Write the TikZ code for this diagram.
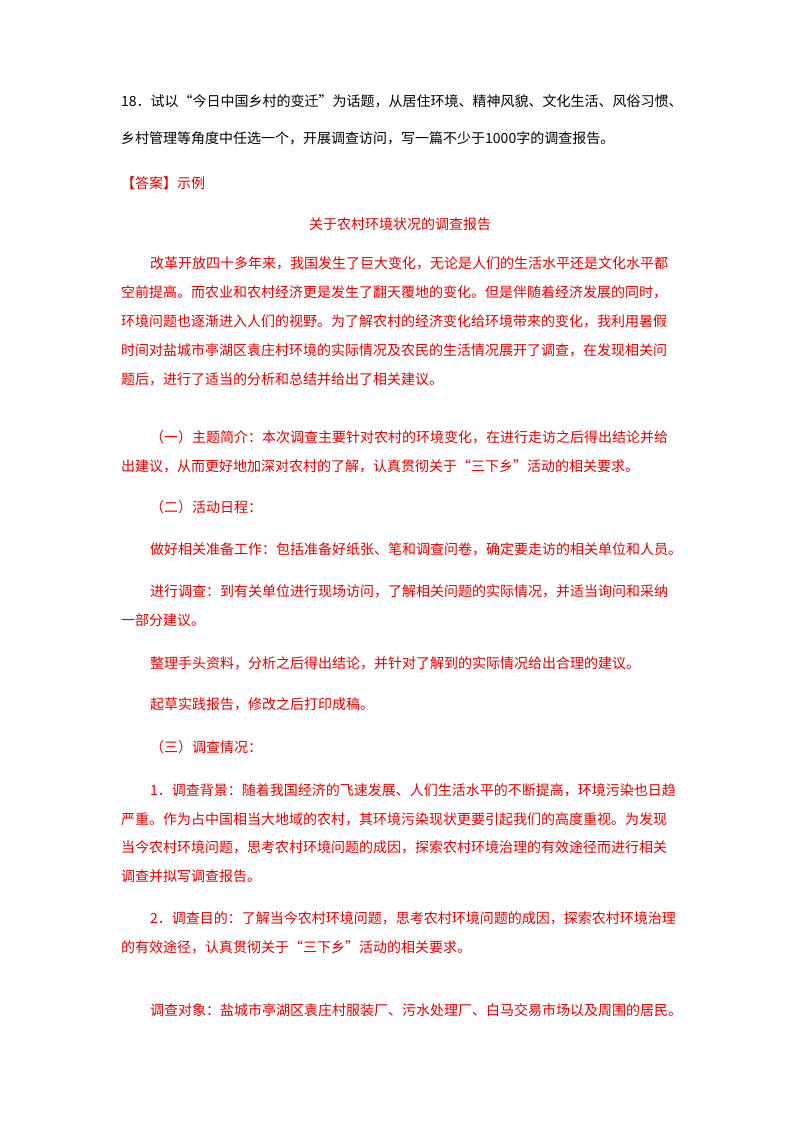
\documentclass[tikz,border=0pt]{standalone}
\usepackage{fontspec}
\newfontfamily\cjk{Noto Sans CJK SC}
\definecolor{ans}{RGB}{230,0,0}
\begin{document}
\begin{tikzpicture}[x=1pt,y=1pt,
  txt/.style={anchor=west,inner sep=0pt,font=\cjk\fontsize{14}{14}\selectfont},
  q/.style={txt,text=black},
  a/.style={txt,text=ans}]
\useasboundingbox[fill=white] (0,0) rectangle (800,-1132);
\node[q] (l1) at (121,-101) {18．试以“今日中国乡村的变迁”为话题，从居住环境、精神风貌、文化生活、风俗习惯、};
\node[q] (l2) at (121,-138) {乡村管理等角度中任选一个，开展调查访问，写一篇不少于1000字的调查报告。};
\node[a] (l3) at (121,-183) {【答案】示例};
\node[a,anchor=center] (l4) at (400,-224) {关于农村环境状况的调查报告};
\node[a] (l5) at (150,-263) {改革开放四十多年来，我国发生了巨大变化，无论是人们的生活水平还是文化水平都};
\node[a] (l6) at (121,-292) {空前提高。而农业和农村经济更是发生了翻天覆地的变化。但是伴随着经济发展的同时，};
\node[a] (l7) at (121,-321) {环境问题也逐渐进入人们的视野。为了解农村的经济变化给环境带来的变化，我利用暑假};
\node[a] (l8) at (121,-350) {时间对盐城市亭湖区袁庄村环境的实际情况及农民的生活情况展开了调查，在发现相关问};
\node[a] (l9) at (121,-379) {题后，进行了适当的分析和总结并给出了相关建议。};
\node[a] (l10) at (150,-437) {（一）主题简介：本次调查主要针对农村的环境变化，在进行走访之后得出结论并给};
\node[a] (l11) at (121,-466) {出建议，从而更好地加深对农村的了解，认真贯彻关于“三下乡”活动的相关要求。};
\node[a] (l12) at (150,-507) {（二）活动日程：};
\node[a] (l13) at (150,-549) {做好相关准备工作：包括准备好纸张、笔和调查问卷，确定要走访的相关单位和人员。};
\node[a] (l14) at (150,-591) {进行调查：到有关单位进行现场访问，了解相关问题的实际情况，并适当询问和采纳};
\node[a] (l15) at (121,-620) {一部分建议。};
\node[a] (l16) at (150,-663) {整理手头资料，分析之后得出结论，并针对了解到的实际情况给出合理的建议。};
\node[a] (l17) at (150,-704) {起草实践报告，修改之后打印成稿。};
\node[a] (l18) at (150,-747) {（三）调查情况：};
\node[a] (l19) at (150,-790) {1．调查背景：随着我国经济的飞速发展、人们生活水平的不断提高，环境污染也日趋};
\node[a] (l20) at (121,-819) {严重。作为占中国相当大地域的农村，其环境污染现状更要引起我们的高度重视。为发现};
\node[a] (l21) at (121,-847) {当今农村环境问题，思考农村环境问题的成因，探索农村环境治理的有效途径而进行相关};
\node[a] (l22) at (121,-876) {调查并拟写调查报告。};
\node[a] (l23) at (150,-918) {2．调查目的：了解当今农村环境问题，思考农村环境问题的成因，探索农村环境治理};
\node[a] (l24) at (121,-947) {的有效途径，认真贯彻关于“三下乡”活动的相关要求。};
\node[a] (l25) at (150,-1010) {调查对象：盐城市亭湖区袁庄村服装厂、污水处理厂、白马交易市场以及周围的居民。};
\end{tikzpicture}
\end{document}
